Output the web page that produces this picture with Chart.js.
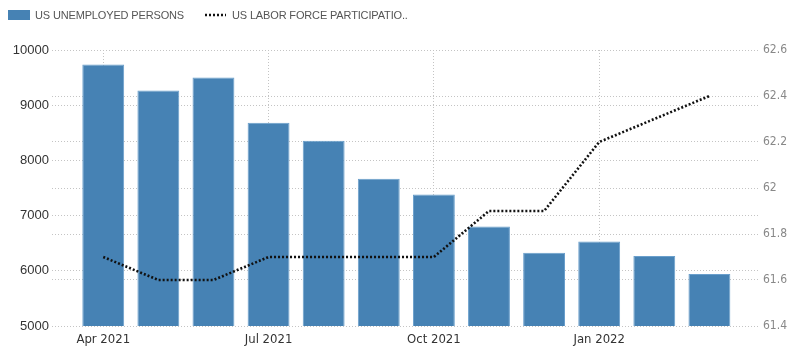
<!DOCTYPE html>
<html>
<head>
<meta charset="utf-8">
<script src="https://cdn.jsdelivr.net/npm/chart.js@4.4.1/dist/chart.umd.min.js"></script>
<style>
  html, body { margin: 0; padding: 0; background: #fff; }
  #wrap { position: relative; width: 800px; height: 355px; }
  #legend { position: absolute; left: 0; top: 0; width: 800px; height: 30px;
    font-family: "Liberation Sans", Arial, sans-serif; font-size: 11px; color: #555; letter-spacing: -0.15px; }
  .lg-item { position: absolute; top: 9px; height: 12px; line-height: 12px; white-space: nowrap; }
  .box { position: absolute; left: 8px; top: 10px; width: 22px; height: 10px; background: #4682b4; }
  .dash { position: absolute; left: 204px; top: 12px; }
</style>
</head>
<body>
<div id="wrap">
  <canvas id="c" width="800" height="355"></canvas>
  <div id="legend">
    <div class="box"></div>
    <div class="lg-item" style="left:35px">US UNEMPLOYED PERSONS</div>
    <svg class="dash" width="22" height="6"><line x1="1" y1="3" x2="22" y2="3" stroke="#111" stroke-width="2.6" stroke-dasharray="2,2"/></svg>
    <div class="lg-item" style="left:232px">US LABOR FORCE PARTICIPATIO..</div>
  </div>
</div>
<script>
// Data
const categories = ["Apr 2021","May 2021","Jun 2021","Jul 2021","Aug 2021","Sep 2021","Oct 2021","Nov 2021","Dec 2021","Jan 2022","Feb 2022","Mar 2022"];
const unemployed = [9737, 9265, 9500, 8684, 8357, 7668, 7382, 6802, 6325, 6530, 6270, 5944];
const participation = [61.7, 61.6, 61.6, 61.7, 61.7, 61.7, 61.7, 61.9, 61.9, 62.2, 62.3, 62.4];
const xTickIndices = [0, 3, 6, 9];

const gridColor = '#c4c4c4';
const condensed = '"DejaVu Sans Condensed", "Liberation Sans Narrow", "DejaVu Sans", sans-serif';

new Chart(document.getElementById('c'), {
  data: {
    datasets: [
      {
        type: 'line',
        label: 'US LABOR FORCE PARTICIPATIO..',
        data: participation.map((v, i) => ({ x: i, y: v })),
        yAxisID: 'y1',
        borderColor: '#111',
        borderWidth: 2.6,
        borderDash: [2, 2],
        pointRadius: 0,
        tension: 0,
        fill: false,
        order: 0
      },
      {
        type: 'bar',
        label: 'US UNEMPLOYED PERSONS',
        data: unemployed.map((v, i) => ({ x: i, y: v })),
        yAxisID: 'y',
        backgroundColor: '#4682b4',
        borderColor: '#6a9fcc',
        borderWidth: 1,
        barPercentage: 0.95,
        categoryPercentage: 0.8,
        order: 1
      }
    ]
  },
  options: {
    responsive: false,
    animation: false,
    layout: { padding: { top: 50, left: 0, right: 0, bottom: 0 } },
    plugins: { legend: { display: false }, tooltip: { enabled: false } },
    scales: {
      x: {
        type: 'linear',
        min: -0.93,
        max: 11.9,
        offset: false,
        border: { display: false, dash: [1, 2] },
        grid: { color: gridColor, drawTicks: false, offset: false },
        afterBuildTicks: (s) => { s.ticks = xTickIndices.map(v => ({ value: v })); },
        afterFit: (s) => { s.height = 29; },
        ticks: {
          autoSkip: false,
          maxRotation: 0,
          padding: 6,
          color: '#333',
          font: { family: condensed, size: 13 },
          callback: (v) => categories[v] || ''
        }
      },
      y: {
        position: 'left',
        min: 5000,
        max: 10000,
        border: { display: false, dash: [1, 2] },
        grid: { color: gridColor, drawTicks: false },
        afterFit: (s) => { s.width = 52; },
        ticks: {
          stepSize: 1000,
          padding: 3,
          color: '#333',
          font: { family: '"Liberation Sans", Arial, sans-serif', size: 13 },
          callback: (v) => String(v)
        }
      },
      y1: {
        position: 'right',
        min: 61.4,
        max: 62.6,
        border: { display: false, dash: [1, 2] },
        grid: { color: gridColor, drawTicks: false },
        afterFit: (s) => { s.width = 41; },
        ticks: {
          stepSize: 0.2,
          padding: 4,
          color: '#888',
          font: { family: condensed, size: 12 },
          callback: (v) => String(parseFloat(Number(v).toFixed(1)))
        }
      }
    }
  }
});
</script>
</body>
</html>
